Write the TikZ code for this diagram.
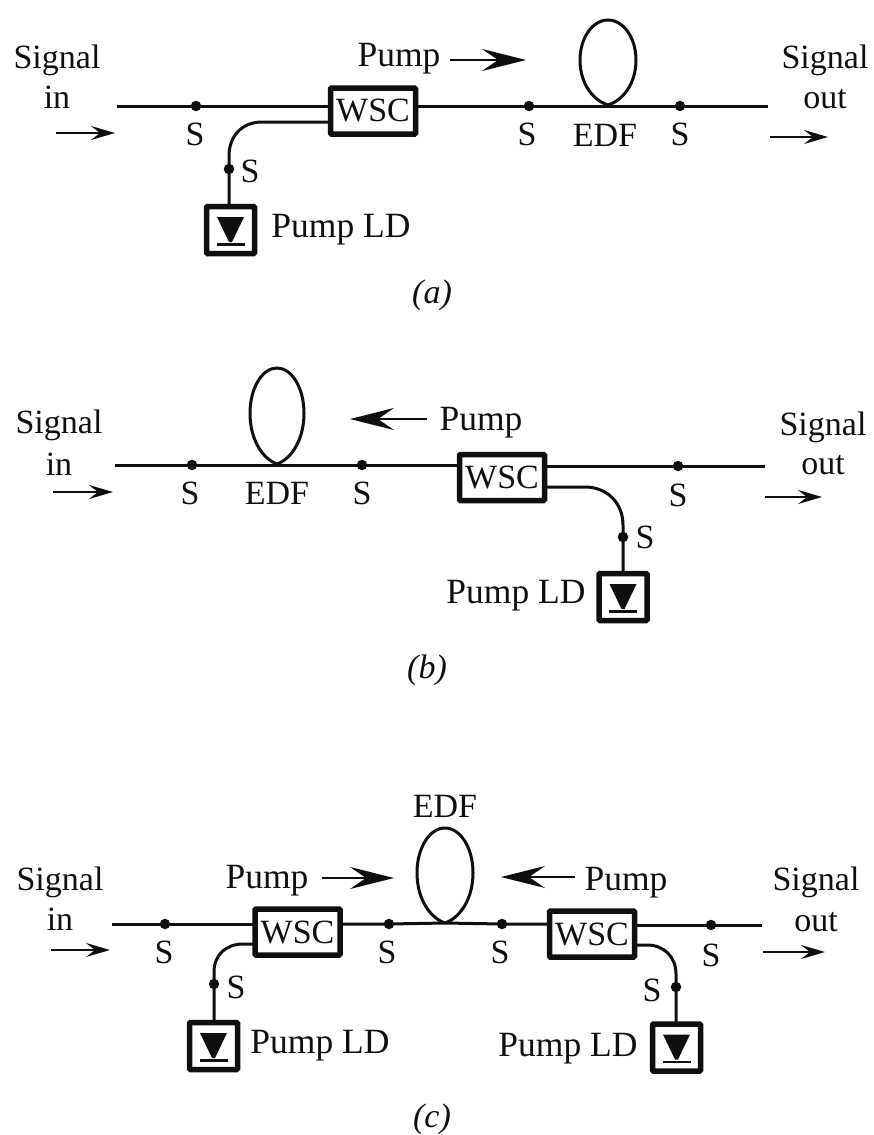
\documentclass[tikz,border=0pt]{standalone}
\usepackage{fontspec}
\setmainfont{Liberation Serif}
\usetikzlibrary{arrows.meta}
\definecolor{ink}{gray}{0.06}
\tikzset{
  every node/.style={text=ink},
  lab/.style={anchor=base,inner sep=0pt,font=\fontsize{34}{36}\selectfont},
  labw/.style={anchor=base,inner sep=0pt,font=\fontsize{35.5}{36}\selectfont},
  fiber/.style={draw=ink,line width=3pt,line cap=butt},
  wsc/.style={draw=ink,line width=5.5pt,inner sep=0pt,outer sep=0pt,minimum width=85pt,minimum height=46pt,rounded corners=1pt,font=\fontsize{34}{36}\selectfont},
  ldbox/.style={draw=ink,line width=5.5pt,inner sep=0pt,outer sep=0pt,minimum width=48pt,minimum height=47pt,rounded corners=1pt},
  sdot/.style={circle,fill=ink,inner sep=0pt,minimum size=10.5pt},
  sigarrow/.style={draw=ink,line width=2pt,-{Stealth[length=24pt,width=14pt,inset=9pt]}},
  pumparrow/.style={draw=ink,line width=2.2pt,-{Stealth[length=44pt,width=22pt,inset=16pt]}}
}
% \LDiode{name}: diode symbol inside the named pump box
\newcommand{\LDiode}[1]{
  \fill[ink] ([shift={(-13.5,-13)}]#1.center) -- ([shift={(13.5,-13)}]#1.center) -- ([shift={(1.5,12)}]#1.center) -- ([shift={(-1.5,12)}]#1.center) -- cycle;
  \draw[ink,line width=2.6pt] ([shift={(-14,14.5)}]#1.center) -- ([shift={(14,14.5)}]#1.center);
}
% \FLoop{base}{half width}{height}: fibre loop standing on a named coordinate
\newcommand{\FLoop}[3]{
  \draw[fiber] (#1) .. controls ([shift={(-0.50*#2,-0.05*#3)}]#1) and ([shift={(-#2,-0.24*#3)}]#1) .. ([shift={(-#2,-0.53*#3)}]#1)
    .. controls ([shift={(-#2,-0.79*#3)}]#1) and ([shift={(-0.55*#2,-#3)}]#1) .. ([shift={(0,-#3)}]#1)
    .. controls ([shift={(0.55*#2,-#3)}]#1) and ([shift={(#2,-0.79*#3)}]#1) .. ([shift={(#2,-0.53*#3)}]#1)
    .. controls ([shift={(#2,-0.24*#3)}]#1) and ([shift={(0.50*#2,-0.05*#3)}]#1) .. (#1);
}
\begin{document}
\begin{tikzpicture}[x=1pt,y=-1pt]
\useasboundingbox (0,0) rectangle (873,1135);

% ---------- (a) ----------
\node[wsc] (wa) at (373,111) {WSC};
\node[ldbox] (lda) at (230.5,230) {};
\LDiode{lda}
\coordinate (a1) at (117,106);
\coordinate (a2) at (768,106);
\coordinate (ab) at (608,105);
\coordinate (ac) at (330,122);
\node[sdot] (a3) at (196,106) {};
\node[sdot] (a4) at (529,106) {};
\node[sdot] (a5) at (680,106) {};
\node[sdot] (a6) at (229,169) {};
\draw[fiber] (a1) -- (wa.west |- a1);
\draw[fiber] (wa.east |- a2) -- (a2);
\draw[fiber] (wa.west |- ac) -- (262,122) .. controls (242,122) and (229,136) .. (229,156) -- (a6.center) -- (a6.center |- lda.north);
\FLoop{ab}{28}{85}
\node[lab] (as1) at (195,145) {S};
\node[lab] (as2) at (527,145) {S};
\node[lab] (as3) at (680,145) {S};
\node[lab] (as4) at (250,182) {S};
\node[lab] (aedf) at (605,146) {EDF};
\node[labw] (apump) at (399,66) {Pump};
\node[labw] (ald) at (341,237) {Pump LD};
\node[lab] (asi1) at (57,68) {Signal};
\node[lab] (asi2) at (57,108) {in};
\node[lab] (aso1) at (825,68) {Signal};
\node[lab] (aso2) at (825,108) {out};
\node[lab] (acap) at (432,303) {\textit{(a)}};
\coordinate (aa1) at (56,133); \coordinate (aa2) at (115,133);
\coordinate (aa3) at (770,137); \coordinate (aa4) at (828,137);
\coordinate (aa5) at (450,60); \coordinate (aa6) at (526,60);
\draw[sigarrow] (aa1) -- (aa2);
\draw[sigarrow] (aa3) -- (aa4);
\draw[pumparrow] (aa5) -- (aa6);

% ---------- (b) ----------
\node[wsc] (wb) at (502,477.5) {WSC};
\node[ldbox] (ldb) at (623,597) {};
\LDiode{ldb}
\coordinate (b1) at (115,465);
\coordinate (b2) at (765,466);
\coordinate (bb) at (277,464);
\coordinate (bc) at (545,487);
\node[sdot] (b3) at (192,465) {};
\node[sdot] (b4) at (362,465) {};
\node[sdot] (b5) at (678,466) {};
\node[sdot] (b6) at (623,537) {};
\draw[fiber] (b1) -- (wb.west |- b1);
\draw[fiber] (wb.east |- b2) -- (b2);
\draw[fiber] (wb.east |- bc) -- (585,487) .. controls (607,487) and (623,503) .. (623,525) -- (b6.center) -- (b6.center |- ldb.north);
\FLoop{bb}{27}{96}
\node[lab] (bs1) at (190,504) {S};
\node[lab] (bs2) at (362,504) {S};
\node[lab] (bs3) at (678,506) {S};
\node[lab] (bs4) at (645,548) {S};
\node[lab] (bedf) at (277,504) {EDF};
\node[labw] (bpump) at (481,430) {Pump};
\node[labw] (bld) at (516,603) {Pump LD};
\node[lab] (bsi1) at (59,433) {Signal};
\node[lab] (bsi2) at (59,475) {in};
\node[lab] (bso1) at (823,435) {Signal};
\node[lab] (bso2) at (823,474) {out};
\node[lab] (bcap) at (427,678) {\textit{(b)}};
\coordinate (ba1) at (53,492); \coordinate (ba2) at (113,492);
\coordinate (ba3) at (765,497); \coordinate (ba4) at (822,497);
\coordinate (ba5) at (427,419); \coordinate (ba6) at (350,419);
\draw[sigarrow] (ba1) -- (ba2);
\draw[sigarrow] (ba3) -- (ba4);
\draw[pumparrow] (ba5) -- (ba6);

% ---------- (c) ----------
\node[wsc] (wc1) at (297.5,932) {WSC};
\node[wsc] (wc2) at (592,934) {WSC};
\node[ldbox] (ldc1) at (213.5,1046) {};
\node[ldbox] (ldc2) at (676.5,1047.5) {};
\LDiode{ldc1}
\LDiode{ldc2}
\coordinate (c1) at (112,924);
\coordinate (c2) at (762,925);
\coordinate (cb) at (445,923);
\coordinate (cc1) at (255,944);
\coordinate (cc2) at (635,945);
\node[sdot] (c3) at (165,924) {};
\node[sdot] (c4) at (389,924) {};
\node[sdot] (c5) at (502,924) {};
\node[sdot] (c6) at (711,925) {};
\node[sdot] (c7) at (214,984) {};
\node[sdot] (c8) at (676,987) {};
\draw[fiber] (c1) -- (wc1.west |- c1);
\draw[fiber] (wc1.east |- c4) -- (c4.center) -- (cb) -- (c5.center) -- (wc2.west |- c5);
\draw[fiber] (wc2.east |- c2) -- (c2);
\draw[fiber] (wc1.west |- cc1) -- (243,944) .. controls (226,944) and (214,955) .. (214,972) -- (c7.center) -- (c7.center |- ldc1.north);
\draw[fiber] (wc2.east |- cc2) -- (647,945) .. controls (664,945) and (676,957) .. (676,974) -- (c8.center) -- (c8.center |- ldc2.north);
\FLoop{cb}{28}{95}
\node[lab] (cs1) at (164,963) {S};
\node[lab] (cs2) at (387,963) {S};
\node[lab] (cs3) at (500,963) {S};
\node[lab] (cs4) at (711,966) {S};
\node[lab] (cs5) at (236,998) {S};
\node[lab] (cs6) at (652,1001) {S};
\node[lab] (cedf) at (445,817) {EDF};
\node[labw] (cp1) at (267,888) {Pump};
\node[labw] (cp2) at (626,890) {Pump};
\node[labw] (cl1) at (320,1053) {Pump LD};
\node[labw] (cl2) at (568,1056) {Pump LD};
\node[lab] (csi1) at (60,890) {Signal};
\node[lab] (csi2) at (60,930) {in};
\node[lab] (cso1) at (816,890) {Signal};
\node[lab] (cso2) at (816,931) {out};
\node[lab] (ccap) at (432,1127) {\textit{(c)}};
\coordinate (ca1) at (51,950); \coordinate (ca2) at (110,950);
\coordinate (ca3) at (763,952); \coordinate (ca4) at (825,952);
\coordinate (ca5) at (322,878); \coordinate (ca6) at (394,878);
\coordinate (ca7) at (575,877); \coordinate (ca8) at (501,877);
\draw[sigarrow] (ca1) -- (ca2);
\draw[sigarrow] (ca3) -- (ca4);
\draw[pumparrow] (ca5) -- (ca6);
\draw[pumparrow] (ca7) -- (ca8);
\end{tikzpicture}
\end{document}
